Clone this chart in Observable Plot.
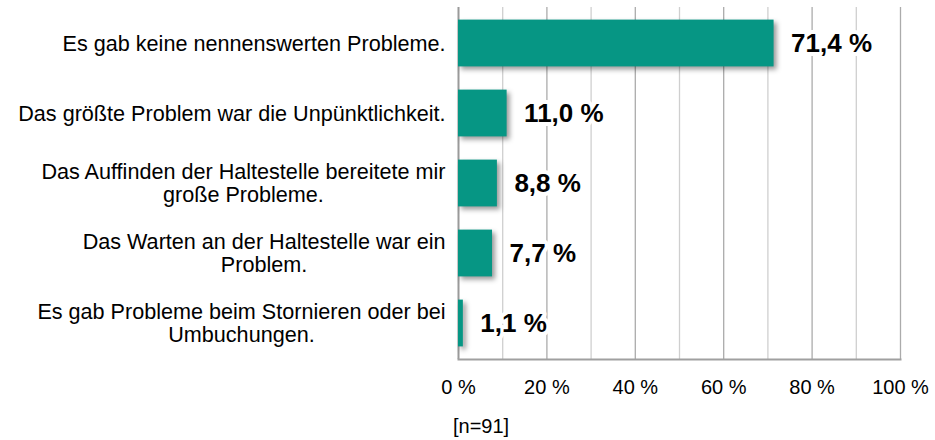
<!DOCTYPE html>
<html>
<head>
<meta charset="utf-8">
<script src="https://cdn.jsdelivr.net/npm/d3@7"></script>
<script src="https://cdn.jsdelivr.net/npm/@observablehq/plot@0.6"></script>
<style>
  html, body { margin: 0; padding: 0; background: #fff; }
  #wrap { position: relative; width: 935px; height: 440px; font-family: "Liberation Sans", Arial, sans-serif; }
  #note { position: absolute; left: 453px; top: 414px; font-size: 20px; line-height: 24px; color: #000; }
</style>
</head>
<body>
<div id="wrap"><div id="chart"></div><div id="note"></div></div>
<script>
const categories = [
  "Es gab keine nennenswerten Probleme.",
  "Das größte Problem war die Unpünktlichkeit.",
  "Das Auffinden der Haltestelle bereitete mir\ngroße Probleme.",
  "Das Warten an der Haltestelle war ein\nProblem.",
  "Es gab Probleme beim Stornieren oder bei\nUmbuchungen."
];
const values = [71.4, 11.0, 8.8, 7.7, 1.1];
const xTicks = [0, 20, 40, 60, 80, 100];
const majorGrid = [20, 40, 60, 80, 100];
const minorGrid = [10, 30, 50, 70, 90];
const note = "[n=91]";

const data = categories.map((c, i) => ({cat: c, value: values[i]}));
const fmt = v => v.toFixed(1).replace(".", ",") + " %";

const chart = Plot.plot({
  width: 935,
  height: 405,
  marginLeft: 458,
  marginRight: 35,
  marginTop: 7,
  marginBottom: 46,
  style: {fontFamily: "'Liberation Sans', Arial, sans-serif", background: "#fff", color: "#000"},
  x: {domain: [0, 100], axis: null, label: null},
  y: {domain: categories, axis: null, padding: 0, label: null},
  marks: [
    Plot.ruleX(minorGrid, {stroke: "#cfcfcf", strokeWidth: 1.3}),
    Plot.ruleX(majorGrid, {stroke: "#ababab", strokeWidth: 1.3}),
    Plot.ruleX([0], {stroke: "#9a9a9a", strokeWidth: 2}),
    Plot.frame({anchor: "bottom", stroke: "#a0a0a0", strokeWidth: 2}),
    Plot.barX(data, {x: "value", y: "cat", fill: "#069684", insetTop: 11.6, insetBottom: 11.6}),
    Plot.text(data, {x: "value", y: "cat", text: d => fmt(d.value), textAnchor: "start", dx: 17,
      fontSize: 26, fontWeight: "bold", fill: "#000", stroke: "#fff", strokeWidth: 8}),
    Plot.text(data, {y: "cat", text: "cat", frameAnchor: "left", textAnchor: "end", dx: -13,
      fontSize: 21.6, lineHeight: 1.05, fill: "#000"}),
    Plot.axisX(xTicks, {tickSize: 0, tickPadding: 20, fontSize: 20, label: null, tickFormat: d => d + " %", fill: "#000"})
  ]
});

document.getElementById("chart").appendChild(chart);
document.getElementById("note").textContent = note;

// drop shadow on bars
const svg = d3.select(chart);
svg.selectAll('g[aria-label="bar"]').style("filter", "drop-shadow(3px 3px 2.5px rgba(0,0,0,0.4))");

// center multi-line category labels within their right-aligned block
svg.selectAll("text").each(function () {
  const tspans = this.querySelectorAll("tspan");
  if (tspans.length < 2) return;
  let W = 0;
  tspans.forEach(t => { W = Math.max(W, t.getComputedTextLength()); });
  this.setAttribute("text-anchor", "middle");
  tspans.forEach(t => t.setAttribute("x", -W / 2));
});
</script>
</body>
</html>
